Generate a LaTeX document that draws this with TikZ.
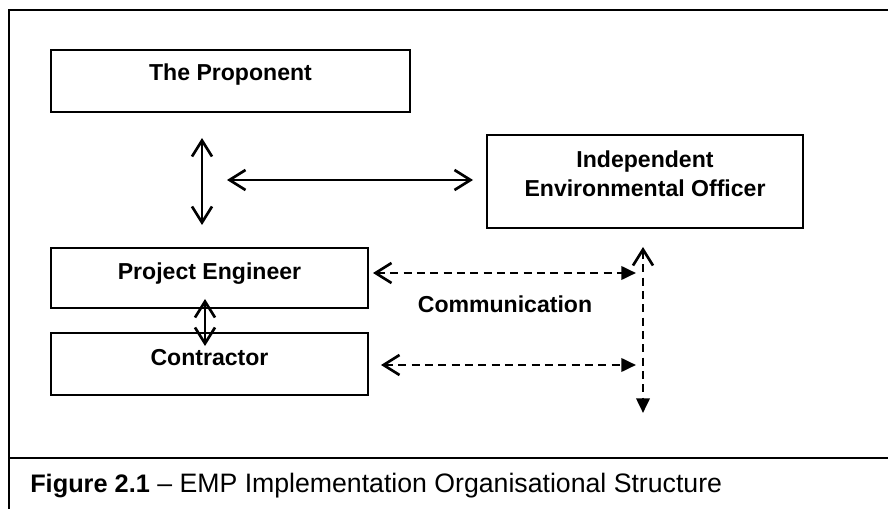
\documentclass[tikz,border=0pt]{standalone}
\usepackage{fontspec}
\setmainfont{Liberation Sans}
\usetikzlibrary{arrows.meta}
\begin{document}
\begin{tikzpicture}[x=0.75pt,y=-0.75pt,
  box/.style={draw=black, line width=1pt, inner sep=0pt},
  lbl/.style={font=\fontsize{17.3}{20}\selectfont\bfseries, align=center, inner sep=0pt},
  frame/.style={line width=1.5pt},
  solidarr/.style={line width=2pt, {Straight Barb[length=12pt,width=15pt,line width=2pt]}-{Straight Barb[length=12pt,width=15pt,line width=2pt]}},
  dasharr/.style={line width=2pt, dash pattern=on 6pt off 4pt, {Straight Barb[length=12pt,width=15pt,line width=2pt]}-{Triangle[length=11pt,width=10pt]}}
]
\useasboundingbox (0,0) rectangle (888,509);
% outer frame
\coordinate (ftl) at (9,10);
\coordinate (ftr) at (888,10);
\coordinate (fbl) at (9,509);
\coordinate (fml) at (9,458);
\coordinate (fmr) at (888,458);
\draw[frame] (ftr) -- (ftl) -- (fbl);
\draw[frame] (fml) -- (fmr);
% boxes
\node[box, minimum width=269.25pt, minimum height=46.5pt] (prop) at (230.5,81) {};
\node[lbl] (propt) at (230.5,75) {The Proponent};
\node[box, minimum width=237pt, minimum height=69.75pt] (ieo) at (645,181.5) {};
\node[lbl] (ieot) at (645,174) {Independent\\[2pt]Environmental Officer};
\node[box, minimum width=237.75pt, minimum height=45pt] (pe) at (209.5,278) {};
\node[lbl] (pet) at (209.5,274) {Project Engineer};
\node[box, minimum width=237.75pt, minimum height=46.5pt] (con) at (209.5,364) {};
\node[lbl] (cont) at (209.5,358) {Contractor};
\node[lbl] (comm) at (505,304) {Communication};
% arrow end points
\coordinate (a1) at (202,138);
\coordinate (a2) at (202,225);
\coordinate (b1) at (227,180);
\coordinate (b2) at (473,180);
\coordinate (c1) at (205,299);
\coordinate (c2) at (205,346);
\coordinate (d1) at (373,273);
\coordinate (d2) at (636,273);
\coordinate (e1) at (381,365);
\coordinate (e2) at (636,365);
\coordinate (v1) at (643,247);
\coordinate (v2) at (643,413);
\draw[solidarr] (a1) -- (a2);
\draw[solidarr] (b1) -- (b2);
\draw[solidarr] (c1) -- (c2);
\draw[dasharr] (d1) -- (d2);
\draw[dasharr] (e1) -- (e2);
\draw[dasharr] (v1) -- (v2);
% caption
\node[anchor=west, inner sep=0pt, font=\fontsize{20}{22}\selectfont] (cap) at (30,486) {\textbf{\fontsize{19}{22}\selectfont Figure 2.1} – EMP Implementation Organisational Structure};
\end{tikzpicture}
\end{document}
